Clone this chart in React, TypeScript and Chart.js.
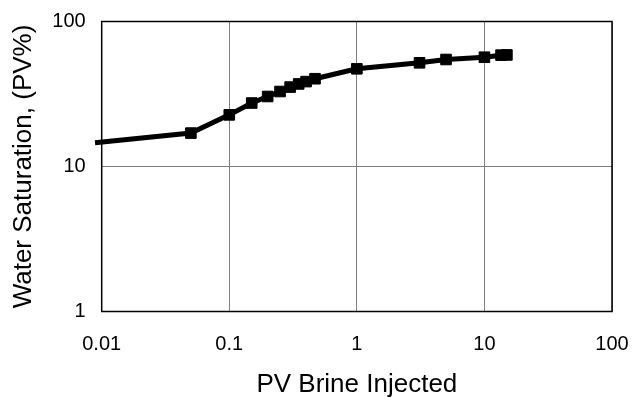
import React, { useEffect, useRef } from "react";
import { Chart, registerables } from "chart.js";

Chart.register(...registerables);

const pvInjected = [0.00886, 0.05, 0.1, 0.15, 0.2, 0.25, 0.3, 0.35, 0.4, 0.47, 1, 3.1, 5, 10, 13.5, 15];
const waterSaturation = [14.6, 17.0, 22.7, 27.4, 30.4, 32.9, 35.3, 37.1, 38.5, 40.3, 47.2, 51.9, 54.7, 56.7, 58.6, 58.8];
const xTickValues = [0.01, 0.1, 1, 10, 100];
const xTickLabels = ["0.01", "0.1", "1", "10", "100"];
const yTickValues = [1, 10, 100];
const yTickLabels = ["1", "10", "100"];
const xTitle = "PV Brine Injected";
const yTitle = "Water Saturation, (PV%)";

const FONT = "'Liberation Sans', Arial, sans-serif";

const borderPlugin = {
  id: "plotBorder",
  beforeDatasetsDraw(chart: any) {
    const { ctx, chartArea } = chart;
    ctx.save();
    ctx.strokeStyle = "#000";
    ctx.lineWidth = 1.5;
    ctx.strokeRect(chartArea.left, chartArea.top, chartArea.right - chartArea.left, chartArea.bottom - chartArea.top);
    ctx.restore();
  },
};

const zeroPad = (s: any) => {
  s.paddingTop = 0;
  s.paddingBottom = 0;
  s.paddingLeft = 0;
  s.paddingRight = 0;
};

export default function App() {
  const ref = useRef<HTMLCanvasElement>(null);
  useEffect(() => {
    document.body.style.margin = "0";
    const canvas = ref.current!;
    const data = pvInjected.map((x, i) => ({ x, y: waterSaturation[i] }));
    const radii = pvInjected.map((_, i) => (i === 0 ? 0 : 7.5));
    const chart = new Chart(canvas, {
      type: "line",
      data: {
        datasets: [
          {
            data,
            borderColor: "#000",
            backgroundColor: "#000",
            borderWidth: 5,
            pointStyle: "rect",
            pointRadius: radii,
            pointBorderWidth: 1,
            pointBackgroundColor: "#000",
            pointBorderColor: "#000",
            tension: 0,
            clip: false as any,
          },
        ],
      },
      plugins: [borderPlugin],
      options: {
        responsive: false,
        animation: false,
        layout: { padding: { left: 0, top: 21.5, right: 21, bottom: 0 } },
        plugins: { legend: { display: false }, tooltip: { enabled: false } },
        scales: {
          x: {
            type: "logarithmic",
            min: 0.01,
            max: 100,
            afterBuildTicks: (s: any) => {
              s.ticks = xTickValues.map((v) => ({ value: v }));
            },
            afterFit: (s: any) => {
              s.height = 86.5;
              zeroPad(s);
            },
            ticks: {
              autoSkip: false,
              maxRotation: 0,
              padding: 20.5,
              color: "#000",
              font: { family: FONT, size: 20 },
              callback: (v: any) => {
                const i = xTickValues.indexOf(Number(v));
                return i >= 0 ? xTickLabels[i] : "";
              },
            },
            grid: { color: "#808080", lineWidth: 1, drawTicks: false },
            border: { display: false },
            title: {
              display: true,
              text: xTitle,
              color: "#000",
              font: { family: FONT, size: 26, lineHeight: 1 },
              padding: { top: 0, bottom: 0 },
            },
          },
          y: {
            type: "logarithmic",
            min: 1,
            max: 100,
            afterBuildTicks: (s: any) => {
              s.ticks = yTickValues.map((v) => ({ value: v }));
            },
            afterFit: (s: any) => {
              s.width = 101.7;
              zeroPad(s);
            },
            ticks: {
              autoSkip: false,
              padding: 16,
              color: "#000",
              font: { family: FONT, size: 20 },
              callback: (v: any) => {
                const i = yTickValues.indexOf(Number(v));
                return i >= 0 ? yTickLabels[i] : "";
              },
            },
            grid: { color: "#808080", lineWidth: 1, drawTicks: false },
            border: { display: false },
            title: {
              display: true,
              text: yTitle,
              color: "#000",
              font: { family: FONT, size: 26 },
              padding: { top: 8, bottom: 0 },
            },
          },
        },
      },
    });
    return () => chart.destroy();
  }, []);
  return (
    <div style={{ width: 633, height: 398, background: "#fff" }}>
      <canvas ref={ref} width={633} height={398} />
    </div>
  );
}
